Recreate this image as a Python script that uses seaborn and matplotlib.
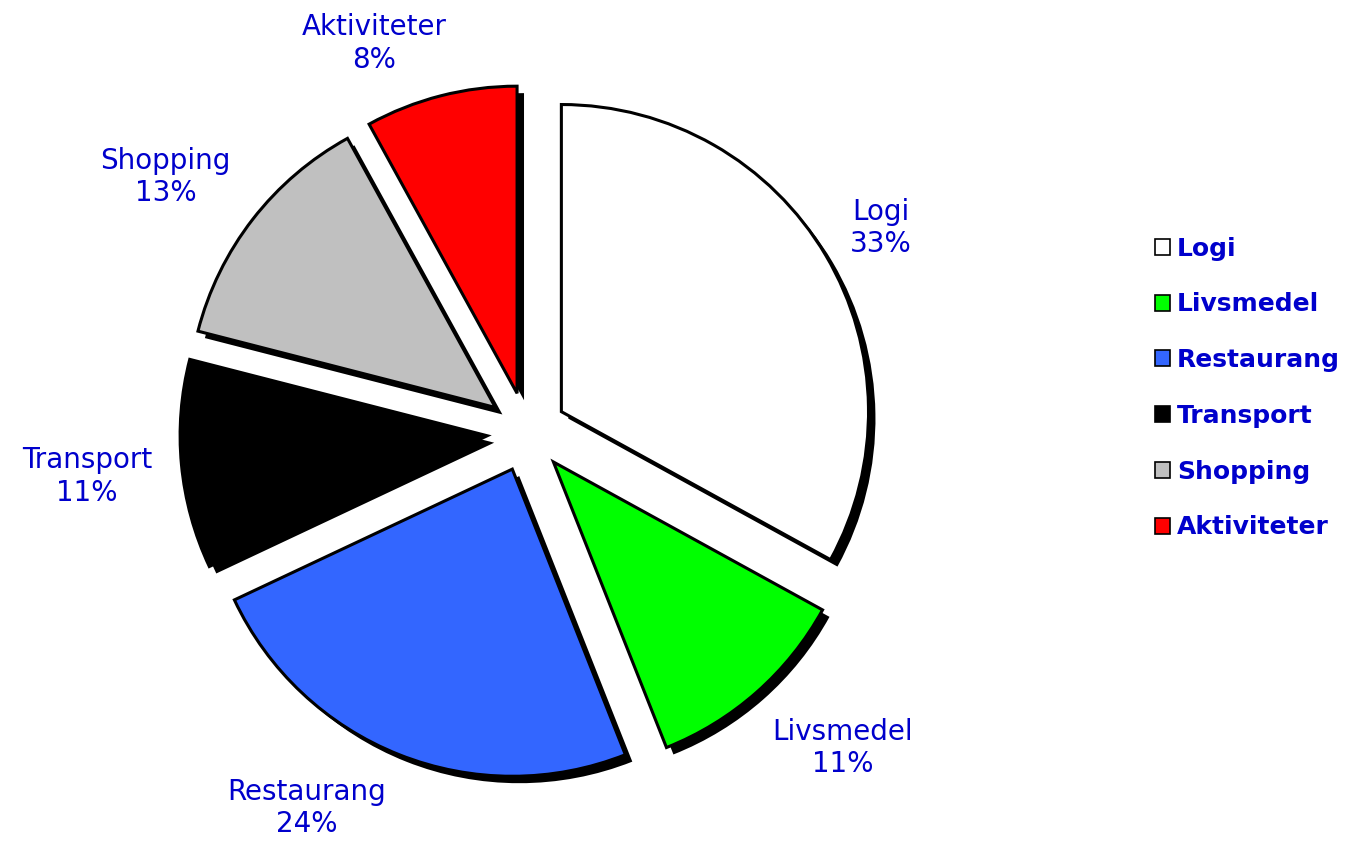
import matplotlib
matplotlib.use('Agg')
import numpy as np
import matplotlib.pyplot as plt
import matplotlib.patheffects as pe
import seaborn as sns

categories = ['Logi', 'Livsmedel', 'Restaurang', 'Transport', 'Shopping', 'Aktiviteter']
shares = [33, 11, 24, 11, 13, 8]
colors = ['#FFFFFF', '#00FF00', '#3366FF', '#000000', '#C0C0C0', '#FF0000']
text_blue = '#0000CC'

# label placement: distance from pie centre (in radii) and angle nudge from slice middle
label_dist = [1.33, 1.455, 1.42, 1.44, 1.44, 1.36]
label_nudge = [-0.6, 3.6, -8.8, 0.4, 2.6, 7.1]

sns.set_theme(style='white')
plt.rcParams['font.family'] = ['DejaVu Sans']

fig = plt.figure(figsize=(13.51, 8.42), dpi=100)
# axes placed so the pie centre lands at ~(527, 432) px with radius ~307 px
ax = fig.add_axes([97 / 1351, -20 / 842, 860 / 1351, 860 / 842])

labels = [f'{c}\n{s}%' for c, s in zip(categories, shares)]
wedges, texts = ax.pie(shares, labels=labels, colors=colors, startangle=90,
                       counterclock=False, explode=[0.13] * len(shares),
                       wedgeprops=dict(edgecolor='black', linewidth=2.2),
                       textprops=dict(color=text_blue, fontsize=20))
for w, t, d, n in zip(wedges, texts, label_dist, label_nudge):
    w.set_path_effects([pe.SimplePatchShadow(offset=(5, -5), shadow_rgbFace='black', alpha=1),
                        pe.Normal()])
    a = np.deg2rad((w.theta1 + w.theta2) / 2 + n)
    t.set_position((d * np.cos(a), d * np.sin(a)))
    t.set_ha('center')
    t.set_va('center')

ax.set_xlim(-1.4, 1.4)
ax.set_ylim(-1.4, 1.4)
ax.set_aspect('equal')
ax.axis('off')

leg = fig.legend(wedges, categories, loc='center left', bbox_to_anchor=(1132 / 1351, 1 - 388 / 842),
                 frameon=False, handlelength=0.6, handleheight=0.6, handletextpad=0.3,
                 labelspacing=1.27, prop=dict(weight='bold', size=18))
for t in leg.get_texts():
    t.set_color(text_blue)
for h in leg.legend_handles:
    h.set_path_effects([])
    h.set_linewidth(1.2)

fig.savefig('out.png', dpi=100)
